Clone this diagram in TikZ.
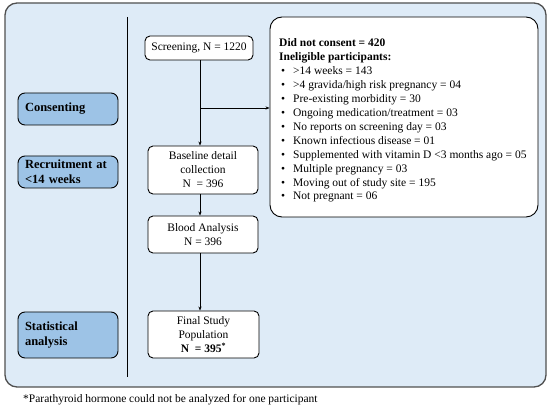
\documentclass[tikz,border=0pt]{standalone}
\usepackage{fontspec}
\setmainfont{Liberation Serif}
\usetikzlibrary{arrows.meta}
\definecolor{bgblue}{HTML}{DEEBF7}
\definecolor{lblblue}{HTML}{9DC3E6}
\definecolor{framegray}{HTML}{505050}
\tikzset{
  whitebox/.style={draw=black, line width=0.9pt, fill=white, rounded corners=5pt, align=center, inner sep=2pt, font=\fontsize{11.5}{14}\selectfont},
  labelbox/.style={draw=black, line width=0.9pt, fill=lblblue, rounded corners=7pt, align=left, text width=86pt, inner xsep=7pt, inner ysep=2pt, minimum width=100pt, font=\fontsize{12.5}{15}\selectfont\bfseries},
  flow/.style={line width=0.8pt, -{Stealth[length=4pt,width=3.2pt]}},
}
\begin{document}
\begin{tikzpicture}[x=1pt,y=-1pt]
\useasboundingbox (0,0) rectangle (550,409);
\draw[framegray, line width=1.3pt, fill=bgblue, rounded corners=12pt] (5,3) rectangle (546,387);
\draw[line width=0.9pt] (127,17) -- (127,377);

\node[labelbox, minimum height=32pt] (consent) at (68,109) {Consenting};
\node[labelbox, minimum height=32pt] (recruit) at (68,172) {Recruitment at\\<14 weeks};
\node[labelbox, minimum height=46pt] (stat) at (68,335) {Statistical\\analysis};

\node[whitebox, minimum width=108pt, minimum height=24pt] (screen) at (199,48) {Screening, N = 1220};
\node[whitebox, minimum width=110pt, minimum height=48pt] (base) at (203,170) {Baseline detail\\collection\\N\ \ = 396};
\node[whitebox, minimum width=110pt, minimum height=37pt] (blood) at (203,234.5) {Blood Analysis\\N = 396};
\node[whitebox, minimum width=111pt, minimum height=47pt] (final) at (203.5,334.5) {Final Study\\Population\\\textbf{N\ \ = 395\textsuperscript{*}}};

\node[draw=black, line width=0.9pt, fill=white, rounded corners=12pt, minimum width=268pt, minimum height=200pt] (info) at (404,117) {};
\node[anchor=base west, inner sep=0pt, align=left, font=\fontsize{11.5}{13.95}\selectfont] (infotext) at (279,200) {%
\textbf{Did not consent = 420}\\
\textbf{Ineligible participants:}\\
\hspace{2pt}\makebox[12pt][l]{\textbullet}>14 weeks = 143\\
\hspace{2pt}\makebox[12pt][l]{\textbullet}>4 gravida/high risk pregnancy = 04\\
\hspace{2pt}\makebox[12pt][l]{\textbullet}Pre-existing morbidity = 30\\
\hspace{2pt}\makebox[12pt][l]{\textbullet}Ongoing medication/treatment = 03\\
\hspace{2pt}\makebox[12pt][l]{\textbullet}No reports on screening day = 03\\
\hspace{2pt}\makebox[12pt][l]{\textbullet}Known infectious disease = 01\\
\hspace{2pt}\makebox[12pt][l]{\textbullet}Supplemented with vitamin D <3 months ago = 05\\
\hspace{2pt}\makebox[12pt][l]{\textbullet}Multiple pregnancy = 03\\
\hspace{2pt}\makebox[12pt][l]{\textbullet}Moving out of study site = 195\\
\hspace{2pt}\makebox[12pt][l]{\textbullet}Not pregnant = 06};

\coordinate (split) at (200,108);
\draw[flow] (screen.south -| split) -- (base.north -| split);
\draw[flow] (split) -- (info.west |- split);
\draw[flow] (base.south -| split) -- (blood.north -| split);
\draw[flow] (blood.south -| split) -- (final.north -| split);

\node[anchor=west, inner sep=0pt, font=\fontsize{11.5}{14}\selectfont] (foot) at (23,400) {*Parathyroid hormone could not be analyzed for one participant};
\end{tikzpicture}
\end{document}
